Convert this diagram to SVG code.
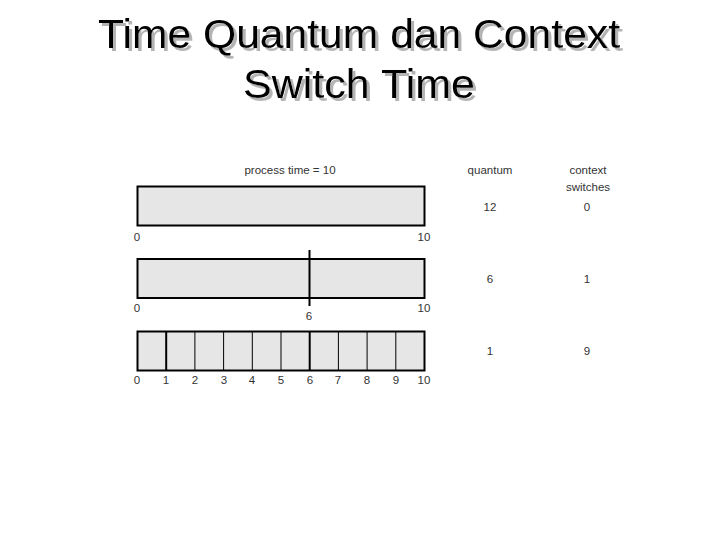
<svg xmlns="http://www.w3.org/2000/svg" width="720" height="540" viewBox="0 0 720 540">
<defs>
<filter id="shadow" x="-5%" y="-20%" width="110%" height="150%">
<feFlood flood-color="#b4b4b4" result="c"/>
<feComposite in="c" in2="SourceAlpha" operator="in" result="s"/>
<feOffset in="s" dx="2.5" dy="2.5" result="o"/>
<feMerge><feMergeNode in="o"/><feMergeNode in="SourceGraphic"/></feMerge>
</filter>
<style>
.title{font-family:"Liberation Sans",Arial,sans-serif;font-size:41px;text-anchor:middle;fill:#000}
.lbl{font-family:"Liberation Sans",Arial,sans-serif;font-size:11.5px;fill:#333;text-anchor:middle}
.bar{fill:#e6e6e6;stroke:#000;stroke-width:2}
.div{stroke:#000;stroke-width:1}
.thk{stroke:#000;stroke-width:2}
</style>
</defs>
<rect width="720" height="540" fill="#fff"/>
<g id="title" filter="url(#shadow)">
<text class="title" x="359" y="48" textLength="522" lengthAdjust="spacingAndGlyphs">Time Quantum dan Context</text>
<text class="title" x="359" y="98" textLength="232" lengthAdjust="spacingAndGlyphs">Switch Time</text>
</g>
<g id="headers">
<text class="lbl" x="290" y="174">process time = 10</text>
<text class="lbl" x="490" y="174">quantum</text>
<text class="lbl" x="588" y="174">context</text>
<text class="lbl" x="588" y="191">switches</text>
</g>
<g id="row1">
<rect class="bar" x="137.5" y="186.5" width="287" height="39"/>
<text class="lbl" x="137" y="241">0</text>
<text class="lbl" x="424" y="241">10</text>
<text class="lbl" x="490" y="211">12</text>
<text class="lbl" x="587" y="211">0</text>
</g>
<g id="row2">
<rect class="bar" x="137.5" y="259" width="287" height="39"/>
<line class="thk" x1="309.5" y1="250" x2="309.5" y2="306"/>
<text class="lbl" x="137" y="312">0</text>
<text class="lbl" x="309" y="320">6</text>
<text class="lbl" x="424" y="312">10</text>
<text class="lbl" x="490" y="283">6</text>
<text class="lbl" x="587" y="283">1</text>
</g>
<g id="row3">
<rect class="bar" x="137.5" y="331.5" width="287" height="39"/>
<line class="thk" x1="166.2" y1="331.5" x2="166.2" y2="370.5"/>
<line class="div" x1="194.9" y1="331.5" x2="194.9" y2="370.5"/>
<line class="div" x1="223.6" y1="331.5" x2="223.6" y2="370.5"/>
<line class="div" x1="252.3" y1="331.5" x2="252.3" y2="370.5"/>
<line class="div" x1="281" y1="331.5" x2="281" y2="370.5"/>
<line class="thk" x1="309.7" y1="331.5" x2="309.7" y2="370.5"/>
<line class="div" x1="338.4" y1="331.5" x2="338.4" y2="370.5"/>
<line class="div" x1="367.1" y1="331.5" x2="367.1" y2="370.5"/>
<line class="div" x1="395.8" y1="331.5" x2="395.8" y2="370.5"/>
<text class="lbl" x="137" y="384">0</text>
<text class="lbl" x="166" y="384">1</text>
<text class="lbl" x="195" y="384">2</text>
<text class="lbl" x="224" y="384">3</text>
<text class="lbl" x="252" y="384">4</text>
<text class="lbl" x="281" y="384">5</text>
<text class="lbl" x="310" y="384">6</text>
<text class="lbl" x="338" y="384">7</text>
<text class="lbl" x="367" y="384">8</text>
<text class="lbl" x="396" y="384">9</text>
<text class="lbl" x="424" y="384">10</text>
<text class="lbl" x="490" y="355">1</text>
<text class="lbl" x="587" y="355">9</text>
</g>
</svg>
